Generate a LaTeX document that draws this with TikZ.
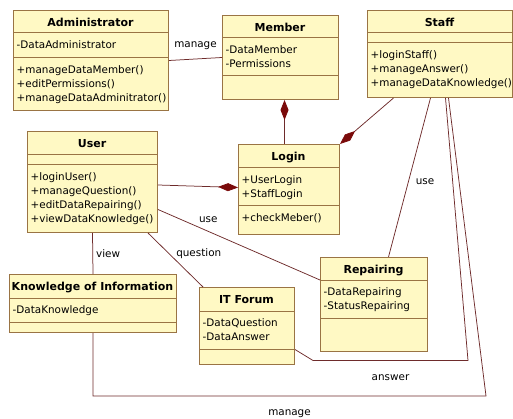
\documentclass[tikz,border=0pt]{standalone}
\usepackage{fontspec}
\setmainfont{DejaVu Sans}
\usetikzlibrary{arrows.meta}

\definecolor{classfill}{HTML}{FFF9C4}
\definecolor{classedge}{HTML}{9A7444}
\definecolor{linkred}{HTML}{6E2B2B}
\definecolor{diamondred}{HTML}{7A0A0A}

\tikzset{
  classbox/.style={draw=classedge,fill=classfill,line width=1pt,inner sep=0pt},
  classline/.style={draw=classedge,line width=1pt},
  classtitle/.style={font=\fontsize{11}{13}\selectfont\bfseries,inner sep=0pt},
  member/.style={font=\fontsize{10.4}{13}\selectfont,anchor=base west,inner sep=0pt},
  link/.style={draw=linkred,line width=0.75pt},
  linklabel/.style={font=\fontsize{10.4}{13}\selectfont,inner sep=1pt},
  compstart/.style={{Diamond[length=20pt,width=8pt,color=diamondred]}-},
  compend/.style={-{Diamond[length=20pt,width=8pt,color=diamondred]}}
}

% class box: name, left, right, top, first divider, second divider, bottom, title
\newcommand{\umlclass}[8]{%
  \node[classbox,anchor=north west,minimum width={(#3)-(#2)},minimum height={(#7)-(#4)}] (#1) at (#2,#4) {};
  \draw[classline] (#2,#5) -- (#3,#5) (#2,#6) -- (#3,#6);
  \node[classtitle,anchor=base] (#1-title) at ({(#2+#3)/2},{#4+16.5}) {#8};
}
% one compartment of members: name, left, first baseline, entries
\newcommand{\umlmembers}[4]{%
  \foreach \entry [count=\i from 0] in {#4}
    \node[member] (#1-\i) at (#2+3.5,{#3+0.5+14*\i}) {\entry};
}

\begin{document}
\begin{tikzpicture}[x=1pt,y=-1pt]
  \useasboundingbox (0,0) rectangle (513,419);

  % classes
  \umlclass{admin}{13}{168}{10}{33}{58}{110}{Administrator}
  \umlmembers{admin-attr}{13}{48}{-DataAdministrator}
  \umlmembers{admin-op}{13}{73}{+manageDataMember(),+editPermissions(),+manageDataAdminitrator()}

  \umlclass{member}{222}{338}{15}{38}{76}{99}{Member}
  \umlmembers{member-attr}{222}{53}{-DataMember,-Permissions}

  \umlclass{staff}{367}{512}{10}{33}{43}{97}{Staff}
  \umlmembers{staff-op}{367}{58}{+loginStaff(),+manageAnswer(),+manageDataKnowledge()}

  \umlclass{login}{238}{339}{144}{168}{206}{234}{Login}
  \umlmembers{login-attr}{238}{183}{+UserLogin,+StaffLogin}
  \umlmembers{login-op}{238}{221}{+checkMeber()}

  \umlclass{user}{27}{157}{131}{155}{165}{232}{User}
  \umlmembers{user-op}{27}{180}{+loginUser(),+manageQuestion(),+editDataRepairing(),+viewDataKnowledge()}

  \umlclass{repairing}{320}{427}{257}{280}{318}{351}{Repairing}
  \umlmembers{repairing-attr}{320}{295}{-DataRepairing,-StatusRepairing}

  \umlclass{knowledge}{9}{176}{274}{298}{322}{332}{Knowledge of Information}
  \umlmembers{knowledge-attr}{9}{313}{-DataKnowledge}

  \umlclass{itforum}{199}{294}{287}{311}{349}{364}{IT Forum}
  \umlmembers{itforum-attr}{199}{326}{-DataQuestion,-DataAnswer}

  % compositions into login
  \draw[link,compstart] ([xshift=4pt]member.south) -- ([xshift=-4.5pt]login.north);
  \draw[link,compend] ([xshift=-46.5pt]staff.south) -- (login.north east);
  \draw[link,compend] ([yshift=-3pt]user.east) -- ([yshift=2pt]login.west);

  % associations
  \draw[link] (admin.east) -- node[linklabel,above=8pt] (lbl-manage1) {manage} (member.west);
  \draw[link] ([yshift=-27.5pt]user.east) -- node[linklabel,pos=0.31,above=7pt] (lbl-use1) {use}
    ([yshift=-23pt]repairing.north west);
  \draw[link] ([xshift=-9.5pt]staff.south) -- node[linklabel,pos=0.525,right=6pt] (lbl-use2) {use}
    ([xshift=14.5pt]repairing.north);
  \draw[link] (user.south) -- node[linklabel,midway,right=2pt] (lbl-view) {view} (knowledge.north);
  \draw[link] ([xshift=-10pt]user.south east) -- node[linklabel,pos=0.38,right=6pt] (lbl-question) {question}
    ([xshift=4pt]itforum.north west);
  \draw[link] ([yshift=-23.5pt]itforum.east) -- ++(18,11) -- ++(155,0)
    node[linklabel,midway,below=12.5pt] (lbl-answer) {answer} -- ([xshift=5.5pt]staff.south);
  \draw[link] (knowledge.south) -- ++(0,63) -- ++(393,0)
    node[linklabel,midway,below=12.5pt] (lbl-manage2) {manage} -- ([xshift=8.5pt]staff.south);
\end{tikzpicture}
\end{document}
